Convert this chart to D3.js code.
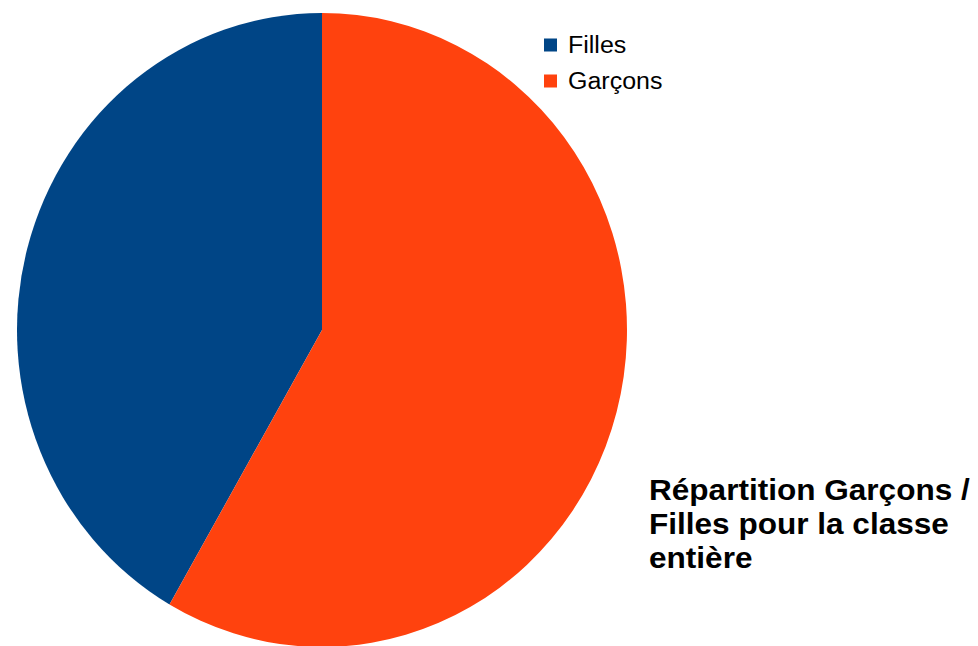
<!DOCTYPE html>
<html><head><meta charset="utf-8">
<script src="https://cdn.jsdelivr.net/npm/d3@7"></script>
<style>body{margin:0;background:#fff}svg{display:block}</style>
</head><body>
<svg id="c" width="978" height="646"></svg>
<script>
const categories = ["Filles", "Garçons"];
const values = [10, 14];
const colors = ["#004586", "#ff420e"];
const titleLines = ["Répartition Garçons /", "Filles pour la classe", "entière"];

const svg = d3.select("#c");
const cx = 322, cy = 330, rx = 305, ry = 317;
const pie = d3.pie().sort(null).startAngle(0).endAngle(-2 * Math.PI).value(d => d);
const arc = d3.arc().innerRadius(0).outerRadius(rx);
const g = svg.append("g").attr("transform", `translate(${cx},${cy}) scale(1,${ry / rx})`);
g.selectAll("path").data(pie(values)).join("path")
  .attr("d", arc).attr("fill", (d, i) => colors[i]);

const ly = [45, 81];
categories.forEach((c, i) => {
  svg.append("rect").attr("x", 544).attr("y", ly[i] - 6.5).attr("width", 13).attr("height", 13).attr("fill", colors[i]);
  svg.append("g").attr("transform", `translate(568,${ly[i] + 8}) scale(1.02,1)`)
    .append("text").attr("x", 0).attr("y", 0)
    .attr("font-family", "Liberation Sans, Arial, sans-serif").attr("font-size", 24.5)
    .attr("fill", "#000").text(c);
});

const t = svg.append("g").attr("transform", "translate(649,0) scale(1.07,1)")
  .append("text").attr("font-family", "Liberation Sans, Arial, sans-serif")
  .attr("font-size", 29.5).attr("font-weight", "bold").attr("fill", "#000");
titleLines.forEach((l, i) => {
  t.append("tspan").attr("x", 0).attr("y", 500 + i * 34).text(l);
});
</script>
</body></html>
